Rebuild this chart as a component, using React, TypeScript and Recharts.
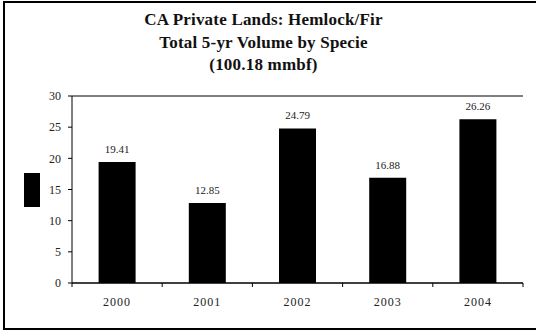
import { BarChart, Bar, XAxis, YAxis, CartesianGrid, LabelList, Legend } from 'recharts';

const years = ['2000', '2001', '2002', '2003', '2004'];
const volumes = [19.41, 12.85, 24.79, 16.88, 26.26];
const yTicks = [0, 5, 10, 15, 20, 25, 30];
const titleLines = ['CA Private Lands: Hemlock/Fir', 'Total 5-yr Volume by Specie', '(100.18 mmbf)'];

const data = years.map((year, i) => ({ year, volume: volumes[i] }));

const serif = '"Liberation Serif", "Times New Roman", serif';

// category label in the middle of the band, tick mark on the band edge
function YearTick(props: any) {
  const { x, y, payload, index, visibleTicksCount } = props;
  const band = 451 / (visibleTicksCount || 5);
  const edge = x + band / 2;
  return (
    <g>
      {index === 0 && <line x1={x - band / 2} y1={y} x2={x - band / 2} y2={y + 4} stroke="#000" />}
      <line x1={edge} y1={y} x2={edge} y2={y + 4} stroke="#000" />
      <text x={x} y={y + 23} textAnchor="middle" fontSize={12} letterSpacing={1} fill="#222" fontFamily={serif}>
        {payload.value}
      </text>
    </g>
  );
}

function LegendSwatch() {
  return (
    <div style={{ width: 44, height: 34 }}>
      <div style={{ marginLeft: 24, width: 16, height: 34, background: '#000' }} />
    </div>
  );
}

export default function App() {
  return (
    <div style={{ position: 'absolute', left: 0, top: 0, width: 536, height: 330, overflow: 'hidden', background: '#fff' }}>
      <div
        style={{
          position: 'absolute', left: 3, top: 1, width: 560, height: 325,
          border: '2px solid #000', boxSizing: 'content-box',
        }}
      />
      <div
        style={{
          position: 'absolute', left: 0, top: 9, width: 527, textAlign: 'center',
          fontFamily: serif, fontWeight: 'bold', fontSize: 17, letterSpacing: 0.2,
          lineHeight: '22.5px', color: '#111',
        }}
      >
        {titleLines.map(t => <div key={t}>{t}</div>)}
      </div>
      <BarChart
        width={536}
        height={330}
        data={data}
        margin={{ top: 96, right: 13, left: 0, bottom: 17 }}
        barCategoryGap="29.5%"
        style={{ position: 'absolute', left: 0, top: 0 }}
      >
        <CartesianGrid vertical={false} stroke="#000" strokeWidth={1} />
        <XAxis
          dataKey="year"
          height={30}
          axisLine={{ stroke: '#000' }}
          tickLine={false}
          tickSize={0}
          tickMargin={0}
          tick={<YearTick />}
          interval={0}
        />
        <YAxis
          yAxisId="left"
          width={28}
          domain={[0, 30]}
          ticks={yTicks}
          interval={0}
          axisLine={{ stroke: '#000' }}
          tickLine={{ stroke: '#000' }}
          tickSize={4}
          tickMargin={7}
          tick={{ fontSize: 12, fill: '#222', fontFamily: serif }}
        />
        <YAxis
          yAxisId="right"
          orientation="right"
          width={0}
          domain={[0, 30]}
          tick={false}
          tickLine={false}
          axisLine={{ stroke: '#000' }}
        />
        <Legend
          layout="vertical"
          align="left"
          verticalAlign="middle"
          content={<LegendSwatch />}
          wrapperStyle={{ top: 173, left: 0 }}
        />
        <Bar yAxisId="left" dataKey="volume" fill="#000" isAnimationActive={false}>
          <LabelList
            dataKey="volume"
            position="top"
            offset={9}
            formatter={(v: any) => Number(v).toFixed(2)}
            style={{ fontSize: 11, fill: '#222', fontFamily: serif }}
          />
        </Bar>
      </BarChart>
    </div>
  );
}
